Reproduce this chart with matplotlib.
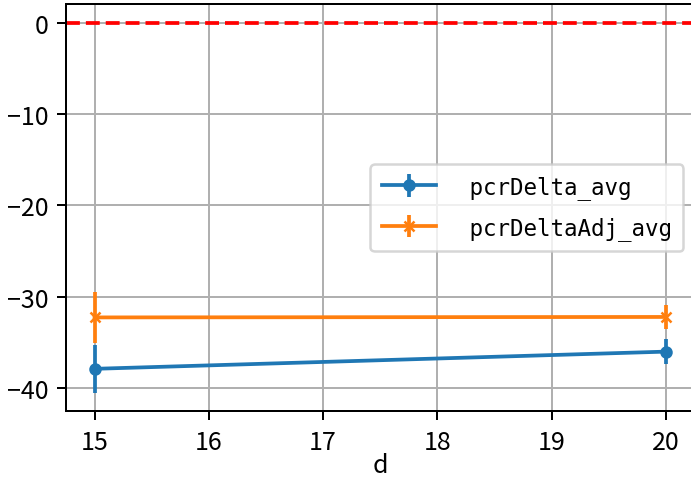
import matplotlib
matplotlib.use('Agg')
import matplotlib.pyplot as plt
from matplotlib.ticker import MultipleLocator

plt.rcParams['font.family'] = ['Noto Sans CJK SC', 'DejaVu Sans']
plt.rcParams['axes.unicode_minus'] = True

d = [15, 20]
pcrDelta_avg = [-37.86, -35.98]
pcrDelta_err = [2.62, 1.40]
pcrDeltaAdj_avg = [-32.24, -32.19]
pcrDeltaAdj_err = [2.82, 1.32]

fig = plt.figure(figsize=(691/180, 482/180), dpi=180)
# right spine falls just outside the picture, as in the reference
ax = fig.add_axes([66/691, 69.7/482, 628.3/691, 407.3/482])

ax.errorbar(d, pcrDelta_avg, yerr=pcrDelta_err, marker='o', markersize=4,
            label=' pcrDelta_avg')
ax.errorbar(d, pcrDeltaAdj_avg, yerr=pcrDeltaAdj_err, marker='x', markersize=4,
            label=' pcrDeltaAdj_avg')
ax.axhline(0, color='red', ls='--', lw=1.5)

ax.yaxis.set_major_locator(MultipleLocator(10))
ax.grid(True)
ax.set_xlabel('d', fontsize=10, labelpad=-1)
ax.tick_params(labelsize=10)

ax.legend(loc='center right', prop={'family': 'DejaVu Sans Mono', 'size': 9},
          handlelength=2.4, handletextpad=0.9, labelspacing=0.75, borderpad=0.5)

fig.savefig('out.png', dpi=180)
